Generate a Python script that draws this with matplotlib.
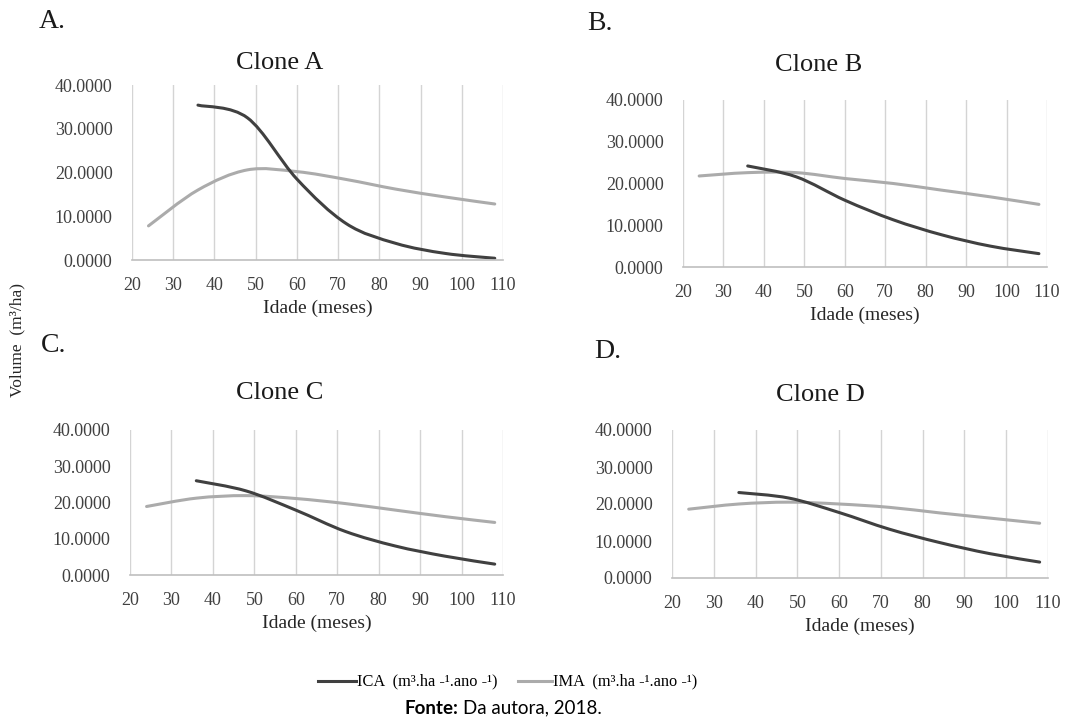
import numpy as np
import matplotlib
matplotlib.use('Agg')
from matplotlib import pyplot as plt
from matplotlib.path import Path
from matplotlib.patches import PathPatch

plt.rcParams['font.family'] = ['Liberation Serif', 'DejaVu Serif']

# idade (meses)
idade_ica = [36, 48, 60, 72, 84, 96, 108]
idade_ima = [24, 36, 48, 60, 72, 84, 96, 108]

# valores
ica_A = [35.4, 32.5, 18.5, 8.3, 3.8, 1.5, 0.4]
ima_A = [7.8, 16.0, 20.6, 20.2, 18.4, 16.2, 14.4, 12.8]
ica_B = [24.2, 21.6, 16.0, 11.3, 7.7, 5.0, 3.2]
ima_B = [21.8, 22.6, 22.6, 21.2, 20.0, 18.4, 16.8, 15.0]
ica_C = [26.0, 23.2, 17.9, 12.0, 8.0, 5.2, 3.0]
ima_C = [18.9, 21.2, 21.9, 21.1, 19.7, 17.9, 16.1, 14.5]
ica_D = [23.1, 21.6, 17.7, 13.2, 9.6, 6.6, 4.3]
ima_D = [18.6, 20.0, 20.5, 20.0, 19.1, 17.6, 16.2, 14.8]

clones = ['Clone A', 'Clone B', 'Clone C', 'Clone D']
letras = ['A.', 'B.', 'C.', 'D.']
ica = [ica_A, ica_B, ica_C, ica_D]
ima = [ima_A, ima_B, ima_C, ima_D]

xticks = list(range(20, 111, 10))
yticks = [0, 10, 20, 30, 40]

cor_ica = '#404040'
cor_ima = '#ababab'


def smooth_line(ax, x, y, color, lw):
    # linha suavizada tipo Excel (bezier catmull-rom)
    x = np.asarray(x, float)
    y = np.asarray(y, float)
    pts = np.column_stack([x, y])
    verts = [pts[0]]
    codes = [Path.MOVETO]
    n = len(pts)
    for i in range(n - 1):
        p0 = pts[i - 1] if i > 0 else pts[i]
        p1 = pts[i]
        p2 = pts[i + 1]
        p3 = pts[i + 2] if i + 2 < n else pts[i + 1]
        c1 = p1 + (p2 - p0) / 6.0
        c2 = p2 - (p3 - p1) / 6.0
        verts += [c1, c2, p2]
        codes += [Path.CURVE4] * 3
    patch = PathPatch(Path(verts, codes), facecolor='none', edgecolor=color,
                      lw=lw, capstyle='round', joinstyle='round')
    ax.add_patch(patch)


fig = plt.figure(figsize=(10.67, 7.24), dpi=100)
W, H = 1067.0, 724.0

# posicoes em pixels: esquerda, topo, direita, base
caixas = [(132, 85, 503, 260), (683, 100, 1047, 267),
          (130, 430, 503, 575), (672, 430, 1048, 578)]
titulos_pos = [(280, 63), (819, 65), (280, 393), (820, 395)]
letras_pos = [(39, 22), (587, 24), (41, 345), (594, 352)]

for k in range(4):
    l, t, r, b = caixas[k]
    ax = fig.add_axes([l / W, 1 - b / H, (r - l) / W, (b - t) / H])
    smooth_line(ax, idade_ima, ima[k], cor_ima, 2.2)
    smooth_line(ax, idade_ica, ica[k], cor_ica, 2.2)
    ax.set_xlim(20, 110)
    ax.set_ylim(0, 40)
    ax.set_xticks(xticks)
    ax.set_yticks(yticks)
    ax.set_yticklabels(['%.4f' % v for v in yticks])
    for xv in xticks:
        ax.axvline(xv, color='#d4d4d4', lw=1, zorder=0)
    for s in ['top', 'right', 'left']:
        ax.spines[s].set_visible(False)
    ax.spines['bottom'].set_color('#bfbfbf')
    ax.spines['bottom'].set_linewidth(1.2)
    ax.tick_params(length=0, labelsize=13, colors='#404040')
    ax.tick_params(axis='y', pad=14)
    ax.tick_params(axis='x', pad=12)
    ax.set_xlabel('Idade (meses)', fontsize=14, color='#262626', labelpad=4)
    fig.text(titulos_pos[k][0] / W, 1 - titulos_pos[k][1] / H, clones[k],
             fontsize=19, ha='center', va='center', color='#1a1a1a')
    fig.text(letras_pos[k][0] / W, 1 - letras_pos[k][1] / H, letras[k],
             fontsize=20, ha='left', va='center', color='#1a1a1a')

fig.text(17 / W, 1 - 340 / H, 'Volume  (m³/ha)', rotation=90, fontsize=12.5,
         ha='center', va='center', color='#262626')

# legenda
ly = 1 - 681 / H
fig.add_artist(plt.Line2D([318 / W, 356 / W], [ly, ly], color=cor_ica, lw=2.2))
fig.text(357 / W, ly, 'ICA  (m³.ha -¹.ano -¹)', fontsize=11.8, va='center', ha='left')
fig.add_artist(plt.Line2D([518 / W, 552 / W], [ly, ly], color=cor_ima, lw=2.2))
fig.text(553 / W, ly, 'IMA  (m³.ha -¹.ano -¹)', fontsize=11.8, va='center', ha='left')

# fonte
fy = 1 - 708 / H
fig.text(458 / W, fy, 'Fonte:', fontsize=13.5, fontweight='bold', ha='right',
         va='center', family=['Lato', 'DejaVu Sans'])
fig.text(463 / W, fy, 'Da autora, 2018.', fontsize=13.5, ha='left',
         va='center', family=['Lato', 'DejaVu Sans'])

fig.savefig('out.png', dpi=100)
